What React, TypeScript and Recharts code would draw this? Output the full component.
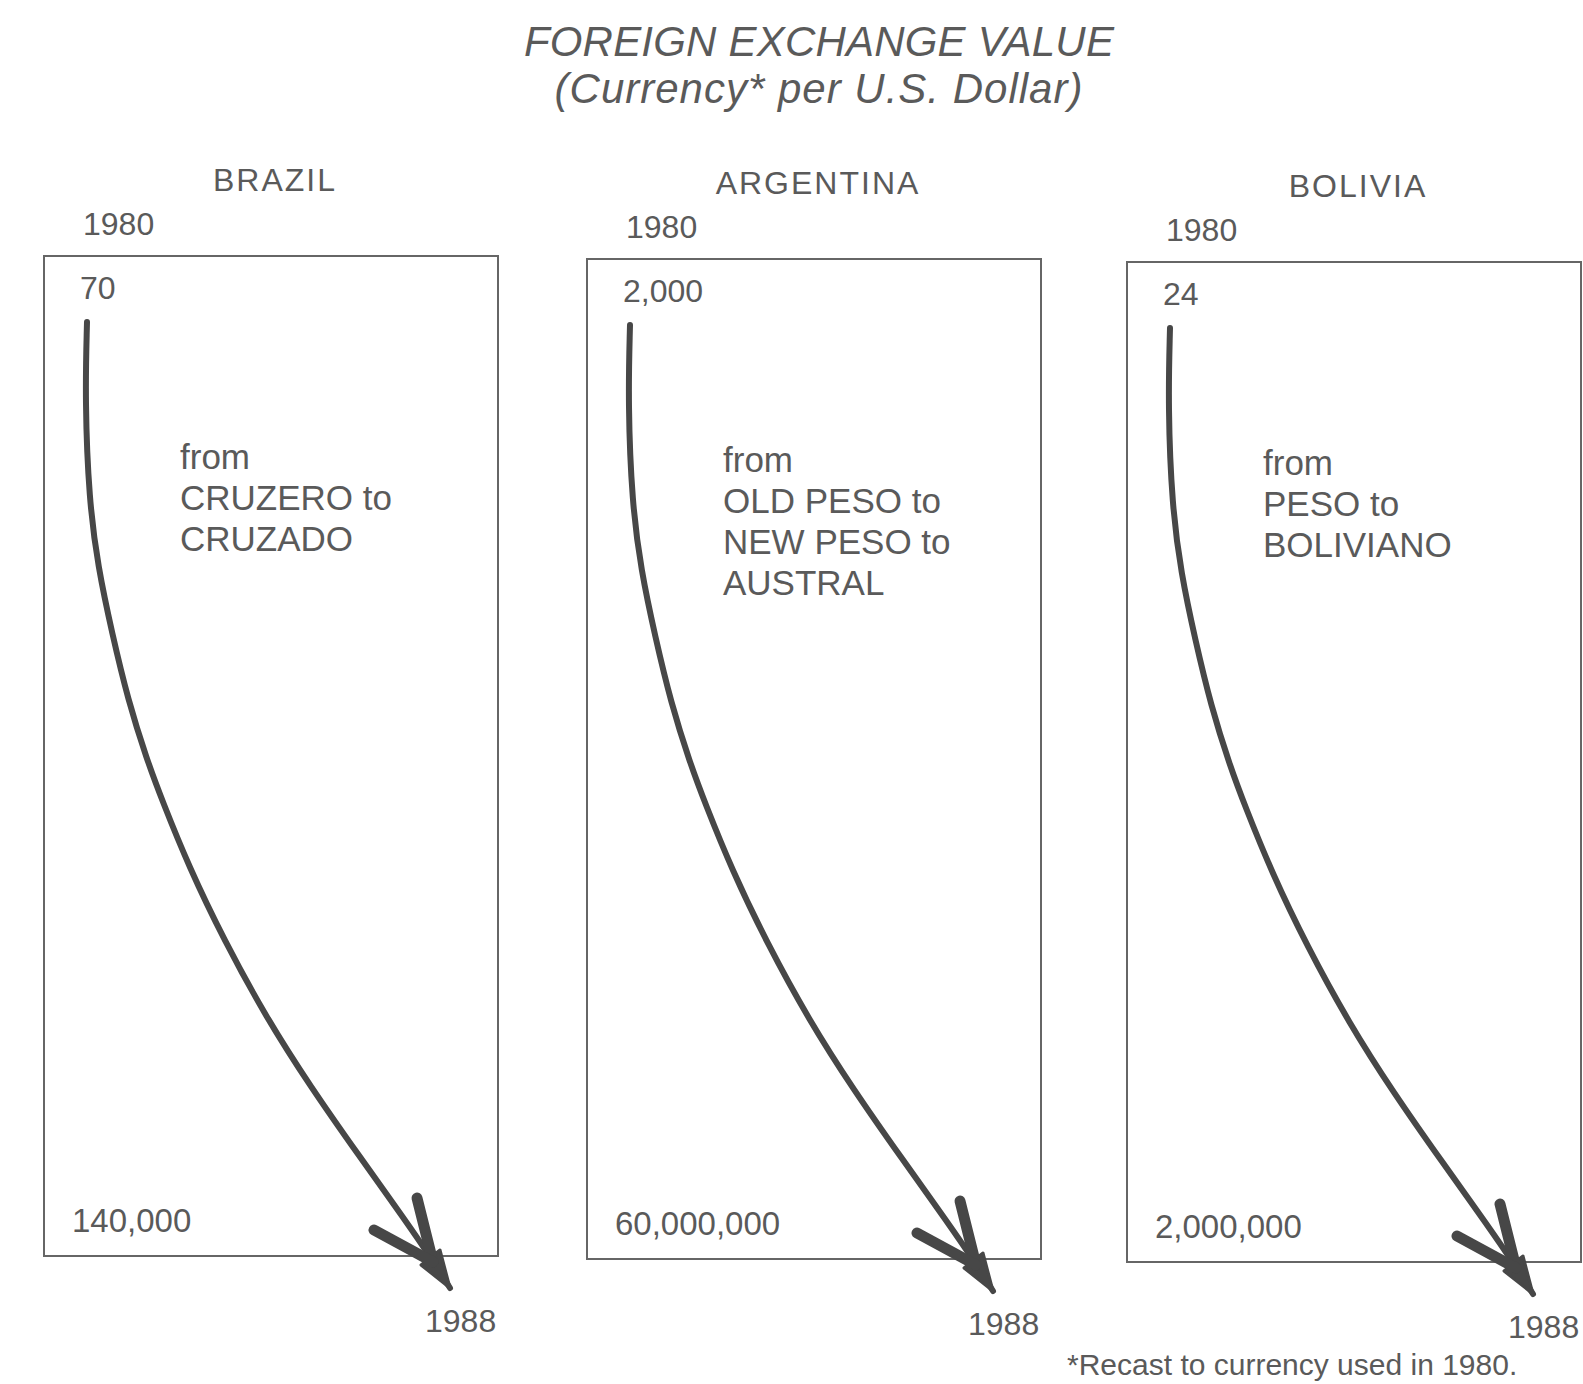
import React from "react";
import { LineChart, Line, XAxis, YAxis, ReferenceArea } from "recharts";

const countries = ["BRAZIL", "ARGENTINA", "BOLIVIA"];
const startYears = ["1980", "1980", "1980"];
const endYears = ["1988", "1988", "1988"];
const rates1980 = ["70", "2,000", "24"];
const rates1988 = ["140,000", "60,000,000", "2,000,000"];
const currencyNotes = [
  ["from", "CRUZERO to", "CRUZADO"],
  ["from", "OLD PESO to", "NEW PESO to", "AUSTRAL"],
  ["from", "PESO to", "BOLIVIANO"],
];

// hand drawn arrow, in box units (x right, y down from the top edge)
const arrowX = [43, 41, 45, 54, 68, 84, 103, 118, 145, 180, 222, 266, 318, 349, 382, 406];
const arrowY = [66, 144, 244, 311, 377, 444, 504, 544, 611, 684, 761, 830, 904, 947, 994, 1032];

const arrowData = arrowX.map((x, i) => ({ x, y: arrowY[i] }));

// layout
const panelLeft = [44, 587, 1127];
const panelTop = [256, 259, 262];
const BOX_W = 454;
const BOX_H = 1000;
const PAD = 12;
const CHART_W = 480;
const CHART_H = 1080;

const INK = "#474747";
const TEXT = "#5a5a5a";
const FONT = '"Liberation Sans", Arial, Helvetica, sans-serif';

// places text by its baseline
const Txt = ({ x, base, size = 32, lh, center = false, style = {}, children }: any) => {
  const L = lh ?? size;
  return (
    <div
      style={{
        position: "absolute",
        left: x,
        top: base - (L / 2 + 0.3465 * size),
        fontSize: size,
        lineHeight: `${L}px`,
        whiteSpace: "nowrap",
        transform: center ? "translateX(-50%)" : undefined,
        color: TEXT,
        fontFamily: FONT,
        ...style,
      }}
    >
      {children}
    </div>
  );
};

const ArrowHead = ({ cx, cy }: { cx: number; cy: number }) => (
  <g>
    <path
      d={`M${cx},${cy} L${cx - 29},${cy - 23} L${cx - 10},${cy - 38} Z`}
      fill={INK}
      stroke={INK}
      strokeWidth={3}
      strokeLinejoin="round"
    />
    <path d={`M${cx - 17},${cy - 26} L${cx - 33},${cy - 90}`} stroke={INK} strokeWidth={11} strokeLinecap="round" fill="none" />
    <path d={`M${cx - 17},${cy - 26} L${cx - 76},${cy - 58}`} stroke={INK} strokeWidth={11} strokeLinecap="round" fill="none" />
  </g>
);

const renderHead = (p: any) =>
  p.index === arrowData.length - 1 ? (
    <ArrowHead key="head" cx={p.cx} cy={p.cy} />
  ) : (
    <g key={`d-${p.index}`} />
  );

const Panel = ({ i }: { i: number }) => {
  const ox = panelLeft[i];
  const oy = panelTop[i];
  return (
    <>
      <div style={{ position: "absolute", left: ox - PAD, top: oy - PAD }}>
        <LineChart width={CHART_W} height={CHART_H} data={arrowData} margin={{ top: 0, right: 0, bottom: 0, left: 0 }}>
          <XAxis type="number" dataKey="x" domain={[-PAD, CHART_W - PAD]} hide />
          <YAxis type="number" domain={[-PAD, CHART_H - PAD]} reversed hide />
          <ReferenceArea
            x1={0}
            x2={BOX_W}
            y1={0}
            y2={BOX_H}
            fill="none"
            stroke="#666"
            strokeWidth={2}
            ifOverflow="visible"
          />
          <Line
            dataKey="y"
            type="basis"
            stroke={INK}
            strokeWidth={6}
            strokeLinecap="round"
            dot={renderHead}
            activeDot={false}
            isAnimationActive={false}
          />
        </LineChart>
      </div>
      <Txt x={ox + 231} base={oy - 65} center style={{ letterSpacing: 2 }}>
        {countries[i]}
      </Txt>
      <Txt x={ox + 39} base={oy - 21}>{startYears[i]}</Txt>
      <Txt x={ox + 36} base={oy + 43}>{rates1980[i]}</Txt>
      {currencyNotes[i].map((line, k) => (
        <Txt key={k} x={ox + 136} base={oy + 213 + k * 41} size={35}>
          {line}
        </Txt>
      ))}
      <Txt x={ox + 28} base={oy + 976} size={33}>{rates1988[i]}</Txt>
      <Txt x={ox + 381} base={oy + 1076}>{endYears[i]}</Txt>
    </>
  );
};

export default function App() {
  return (
    <div
      style={{
        position: "absolute",
        left: 0,
        top: 0,
        width: 1583,
        height: 1384,
        background: "#fff",
        overflow: "hidden",
        fontFamily: FONT,
      }}
    >
      <Txt x={819} base={57} size={42} lh={30} center style={{ fontStyle: "italic", letterSpacing: 0.2 }}>
        FOREIGN EXCHANGE VALUE
      </Txt>
      <Txt x={819} base={104} size={42} lh={30} center style={{ fontStyle: "italic", letterSpacing: 1 }}>
        (Currency* per U.S. Dollar)
      </Txt>
      {countries.map((c, i) => (
        <Panel key={c} i={i} />
      ))}
      <Txt x={1067} base={1375} size={30}>
        *Recast to currency used in 1980.
      </Txt>
    </div>
  );
}
